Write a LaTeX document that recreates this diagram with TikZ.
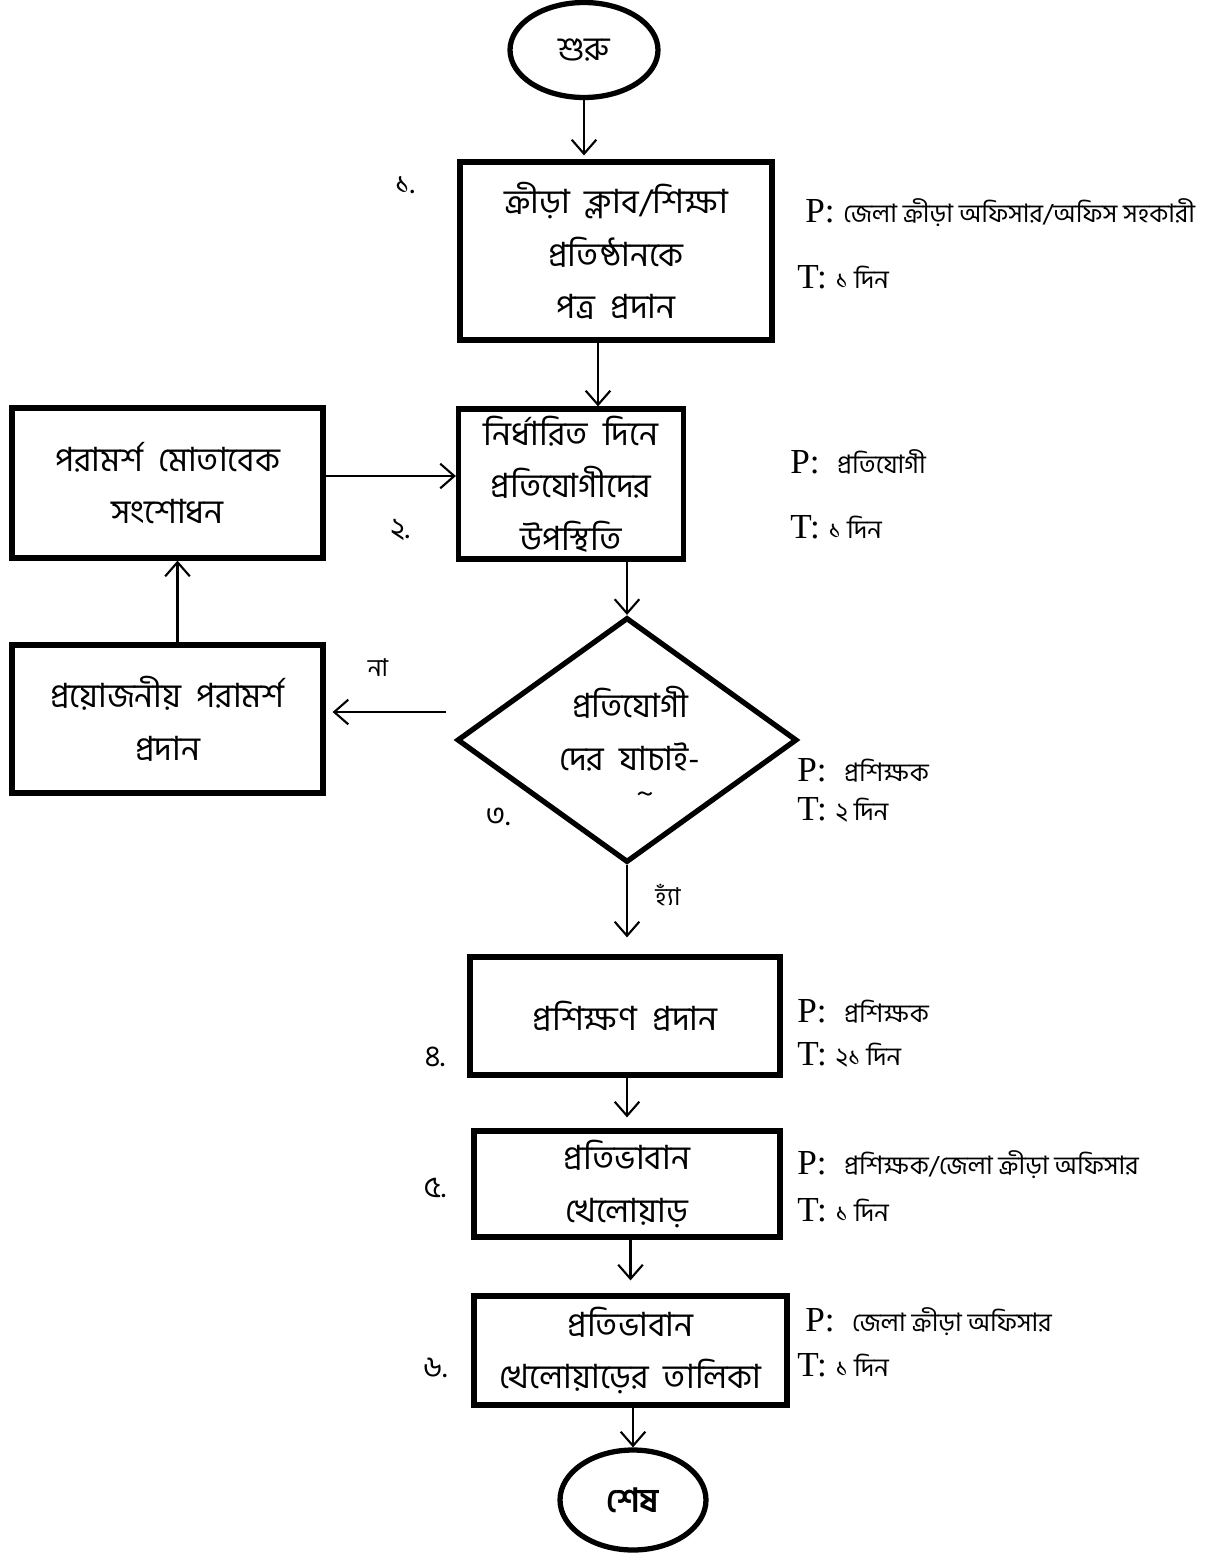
\documentclass[tikz,border=0pt]{standalone}
\usepackage{fontspec}
\setmainfont{Liberation Serif}
\newfontfamily\bnfont[Script=Bengali]{Hind Siliguri}
\usetikzlibrary{shapes.geometric,arrows.meta}

\newcommand{\boxfont}{\bnfont\fontsize{19}{30}\selectfont\spaceskip=0.45em plus 0.1em\relax}
\tikzset{
  procbox/.style={draw, line width=3pt, align=center, inner sep=0pt, font=\boxfont},
  termnode/.style={draw, ellipse, line width=3pt, inner sep=0pt,
    font=\bnfont\fontsize{19}{24}\selectfont},
  decnode/.style={draw, diamond, line width=3pt, align=center, inner sep=0pt, font=\boxfont},
  flow/.style={-{Straight Barb[length=8pt,width=14pt]}, line width=1.2pt},
  stepno/.style={font=\bnfont\fontsize{17}{18}\selectfont},
  roleinfo/.style={anchor=west, inner sep=0pt, font=\fontsize{20}{22}\selectfont},
  smallbn/.style={font=\bnfont\fontsize{14}{16}\selectfont}
}
\newcommand{\bn}[1]{{\bnfont\fontsize{14.5}{16}\selectfont #1}}

\begin{document}
\begin{tikzpicture}[x=0.02cm,y=-0.02cm]
    \useasboundingbox (0,0) rectangle (1204,1555);

    % main column
    \node[termnode, minimum width=2.96cm, minimum height=1.9cm] (start) at (584,50) {শুরু};
    \node[procbox, minimum width=6.24cm, minimum height=3.56cm] (letter) at (616,251) {ক্রীড়া ক্লাব/শিক্ষা\\প্রতিষ্ঠানকে\\পত্র প্রদান};
    \node[procbox, minimum width=4.5cm, minimum height=3cm] (attend) at (571,484) {নির্ধারিত দিনে\\প্রতিযোগীদের\\উপস্থিতি};
    \node[decnode, minimum width=6.8cm, minimum height=4.9cm] (check) at (627,740) {};
    \node[font=\boxfont, align=center] (checktext) at (630,744) {প্রতিযোগী\\দের যাচাই-\\[-12pt]\hspace*{0.6cm}{\fontsize{16}{12}\selectfont\char`\~}};
    \node[procbox, minimum width=6.2cm, minimum height=2.36cm] (train) at (625,1016) {প্রশিক্ষণ প্রদান};
    \node[procbox, minimum width=6.12cm, minimum height=2.12cm] (talent) at (627,1184) {প্রতিভাবান\\খেলোয়াড়};
    \node[procbox, minimum width=6.26cm, minimum height=2.18cm] (list) at (630.5,1350.5) {প্রতিভাবান\\খেলোয়াড়ের তালিকা};
    \node[termnode, font=\bnfont\bfseries\fontsize{19}{24}\selectfont, minimum width=2.92cm, minimum height=2cm] (stop) at (633,1500) {শেষ};

    % left column
    \node[procbox, minimum width=6.22cm, minimum height=3cm] (revise) at (167.5,483) {পরামর্শ মোতাবেক\\সংশোধন};
    \node[procbox, minimum width=6.22cm, minimum height=2.96cm] (advice) at (167.5,719) {প্রয়োজনীয় পরামর্শ\\প্রদান};

    % step numbers
    \node[stepno] (n1) at (405,185) {১.};
    \node[stepno] (n2) at (400,530) {২.};
    \node[stepno] (n3) at (498,817) {৩.};
    \node[stepno] (n4) at (435,1057) {৪.};
    \node[stepno] (n5) at (435,1188) {৫.};
    \node[stepno] (n6) at (435,1368) {৬.};

    % person / time
    \node[roleinfo] (p1) at (805,213) {P: \bn{জেলা ক্রীড়া অফিসার/অফিস সহকারী}};
    \node[roleinfo] (t1) at (797,277) {T: \bn{১ দিন}};
    \node[roleinfo] (p2) at (790,462) {P:\ \ \bn{প্রতিযোগী}};
    \node[roleinfo] (t2) at (790,527) {T: \bn{১ দিন}};
    \node[roleinfo] (p3) at (797,770) {P:\ \ \bn{প্রশিক্ষক}};
    \node[roleinfo] (t3) at (797,810) {T: \bn{২ দিন}};
    \node[roleinfo] (p4) at (797,1011) {P:\ \ \bn{প্রশিক্ষক}};
    \node[roleinfo] (t4) at (797,1055) {T: \bn{২১ দিন}};
    \node[roleinfo] (p5) at (797,1165) {P:\ \ \bn{প্রশিক্ষক/জেলা ক্রীড়া অফিসার}};
    \node[roleinfo] (t5) at (797,1210) {T: \bn{১ দিন}};
    \node[roleinfo] (p6) at (805,1322) {P:\ \ \bn{জেলা ক্রীড়া অফিসার}};
    \node[roleinfo] (t6) at (797,1365) {T: \bn{১ দিন}};

    % branch labels
    \node[smallbn] (no) at (378,668) {না};
    \node[smallbn] (yes) at (668,895) {হ্যাঁ};

    % connectors
    \draw[flow] (start.south) -- ([yshift=0.08cm]start.south |- letter.north);
    \draw[flow] ([xshift=-0.36cm]letter.south) -- ([xshift=-0.36cm]letter.south |- attend.north);
    \draw[flow] (check.north |- attend.south) -- (check.north);
    \draw[flow] ([yshift=0.14cm]revise.east) -- ([yshift=0.14cm]revise.east -| attend.west);
    \draw[flow] ([shift={(-8,-28)}]check.west) -- ([shift={(7,-7)}]advice.east);
    \draw[flow] ([xshift=0.2cm]advice.north) -- ([xshift=0.2cm]revise.south);
    \draw[flow] (check.south) -- ([yshift=0.34cm]check.south |- train.north);
    \draw[flow] (train.south -| talent.north) -- ([yshift=0.22cm]talent.north);
    \draw[flow] (talent.south -| list.north) -- ([yshift=0.26cm]list.north);
    \draw[flow] (list.south -| stop.north) -- (stop.north);
\end{tikzpicture}
\end{document}
